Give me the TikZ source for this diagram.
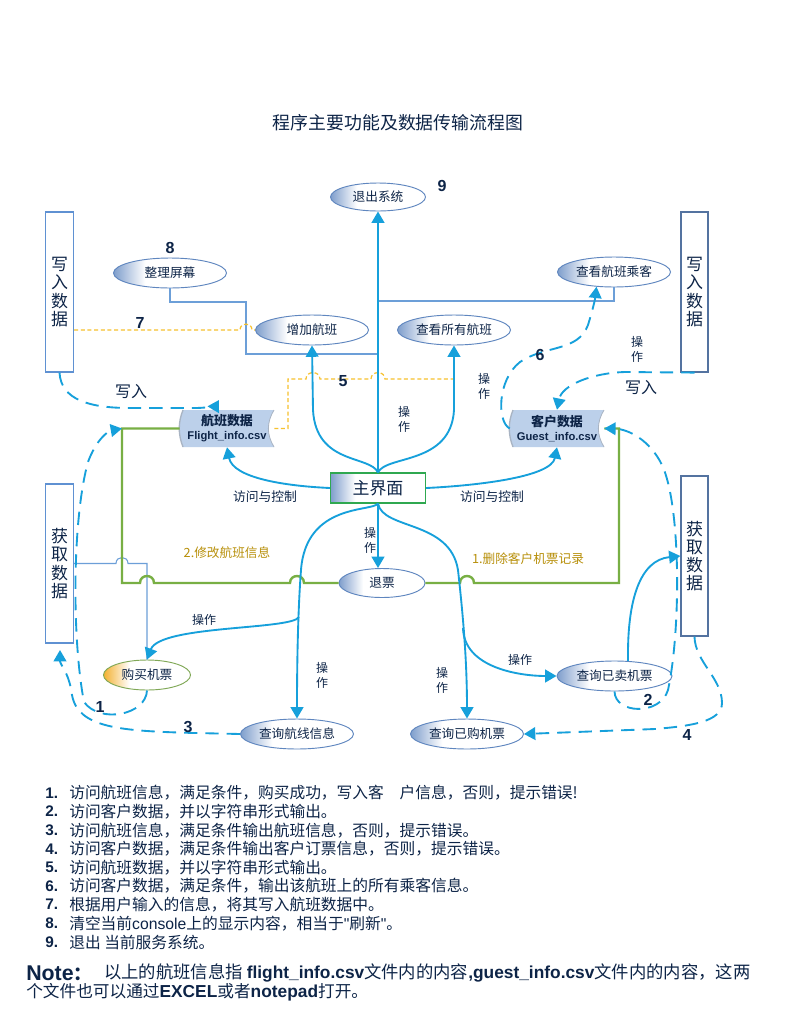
\documentclass[tikz,border=0pt]{standalone}
\usepackage{fontspec}
\setmainfont{Noto Sans CJK SC}
\newfontfamily\lat{Liberation Sans}
\usetikzlibrary{shapes.geometric,arrows.meta}
\definecolor{navy}{HTML}{0D2447}
\definecolor{flowC}{HTML}{16A0DB}
\definecolor{thinC}{HTML}{6C9FD8}
\definecolor{gC}{HTML}{78AF44}
\definecolor{yelC}{HTML}{F7C12E}
\definecolor{goldC}{HTML}{B8900B}
\definecolor{ellB}{HTML}{5F86BF}
\definecolor{ellL}{HTML}{7F9ECC}
\definecolor{boxBL}{HTML}{5F91D2}
\definecolor{boxBR}{HTML}{5473A0}
\definecolor{datF}{HTML}{BCD0EA}
\definecolor{datE}{HTML}{A9B4C3}
\definecolor{orL}{HTML}{F3B030}
\definecolor{orB}{HTML}{80A857}
\definecolor{mainB}{HTML}{2FA850}
\pgfdeclarehorizontalshading{ellgrad}{100bp}{color(0bp)=(ellL); color(25bp)=(ellL); color(39bp)=(white); color(100bp)=(white)}
\pgfdeclarehorizontalshading{orgrad}{100bp}{color(0bp)=(orL); color(25bp)=(orL); color(40bp)=(white); color(100bp)=(white)}
\pgfdeclarehorizontalshading{maingrad}{100bp}{color(0bp)=(ellL); color(25bp)=(ellL); color(38bp)=(white); color(100bp)=(white)}
\tikzset{
  every node/.style={text=navy},
  ell/.style={ellipse, draw=ellB, line width=0.7pt, shade, shading=ellgrad, inner sep=0pt,
    minimum width=84.75pt, minimum height=22.5pt, font=\fontsize{9.5}{11}\selectfont},
  vbox/.style={draw=boxBL, line width=0.9pt, fill=white, minimum width=21pt, minimum height=120pt,
    inner sep=0pt, align=center, font=\fontsize{12.7}{13.6}\selectfont},
  dat/.style={minimum width=70.5pt, minimum height=27.75pt, inner sep=0pt, align=center,
    font=\bfseries\fontsize{9.7}{10.5}\selectfont},
  flow/.style={draw=flowC, line width=1.4pt, -{Triangle[length=8.5pt,width=9.5pt]}},
  dflow/.style={flow, dash pattern=on 10pt off 6pt},
  tline/.style={draw=thinC, line width=0.8pt},
  gline/.style={draw=gC, line width=1.8pt},
  yline/.style={draw=yelC, line width=0.9pt, dash pattern=on 3pt off 2pt},
  lab/.style={font=\fontsize{9}{11.3}\selectfont, align=center, inner sep=0pt},
  ctl/.style={font=\fontsize{9.6}{11}\selectfont, inner sep=0pt},
  gold/.style={text=goldC, font=\fontsize{9.5}{11}\selectfont, inner sep=0pt},
  num/.style={font={\lat\bfseries\fontsize{12}{14}\selectfont}, inner sep=0pt},
  wlab/.style={font=\fontsize{12}{14}\selectfont, inner sep=0pt},
  item/.style={anchor=west, inner sep=0pt, font=\fontsize{11.8}{14}\selectfont},
  inum/.style={anchor=west, inner sep=0pt, font={\lat\bfseries\fontsize{11.5}{14}\selectfont}},
}
\begin{document}
\begin{tikzpicture}[x=0.75pt,y=-0.75pt]
\useasboundingbox (0,0) rectangle (789,1029);
\fill[white] (0,0) rectangle (789,1029);

% title
\node[font=\fontsize{13.4}{15}\selectfont, inner sep=0pt] (title) at (398,123) {程序主要功能及数据传输流程图};

% data shapes (background)
\fill[datF, shift={(227,428.5)}] (-44,-18.5) -- (47,-18.5) .. controls (39.5,-6) and (39.5,6) .. (47,18.5) -- (-44,18.5) .. controls (-49,6) and (-49,-6) .. (-44,-18.5) -- cycle;
\draw[datE, line width=1pt, shift={(227,428.5)}] (-44,18.5) .. controls (-49,6) and (-49,-6) .. (-44,-18.5);
\draw[datE, line width=0.6pt, shift={(227,428.5)}] (47,-18.5) .. controls (39.5,-6) and (39.5,6) .. (47,18.5);
\fill[datF, shift={(557,428.5)}] (-44,-18.5) -- (47,-18.5) .. controls (39.5,-6) and (39.5,6) .. (47,18.5) -- (-44,18.5) .. controls (-49,6) and (-49,-6) .. (-44,-18.5) -- cycle;
\draw[datE, line width=1pt, shift={(557,428.5)}] (-44,18.5) .. controls (-49,6) and (-49,-6) .. (-44,-18.5);
\draw[datE, line width=0.6pt, shift={(557,428.5)}] (47,-18.5) .. controls (39.5,-6) and (39.5,6) .. (47,18.5);
\node[dat] (fdata) at (227,428.5) {航班数据\\{\lat\bfseries\fontsize{8.4}{10.5}\selectfont Flight\_info.csv}};
\node[dat] (gdata) at (557,428.5) {客户数据\\{\lat\bfseries\fontsize{8.4}{10.5}\selectfont Guest\_info.csv}};

% ellipses
\node[ell, minimum width=71.25pt, minimum height=21pt] (exitn) at (378,197) {退出系统};
\node[ell] (clear) at (170,273) {整理屏幕};
\node[ell] (pass) at (614,272) {查看航班乘客};
\node[ell] (addf) at (312,330) {增加航班};
\node[ell] (allf) at (454,330) {查看所有航班};
\node[ell, minimum width=64.5pt, minimum height=21.75pt] (refund) at (382,583) {退票};
\node[ell, draw=orB, shading=orgrad, minimum width=65.25pt] (buy) at (147,675) {购买机票};
\node[ell] (route) at (297,734) {查询航线信息};
\node[ell, minimum width=86.25pt] (sold) at (614.5,676) {查询已卖机票};
\node[ell] (bought) at (467,734) {查询已购机票};

% main
\node[draw=mainB, line width=0.8pt, shade, shading=maingrad, minimum width=71.25pt, minimum height=22.5pt,
  inner sep=0pt, font=\fontsize{12.7}{14}\selectfont] (main) at (378,488) {主界面};

% side boxes
\node[vbox] (wl) at (59.5,292) {写\\入\\数\\据};
\node[vbox, draw=boxBR, minimum width=20.25pt] (wr) at (694.5,292) {写\\入\\数\\据};
\node[vbox, minimum height=119.25pt] (gl) at (59.5,563.5) {获\\取\\数\\据};
\node[vbox, draw=boxBR, minimum width=20.25pt] (gr) at (694.5,556) {获\\取\\数\\据};

% helper coordinates
\coordinate (t1) at (378,354);
\coordinate (t2) at (378,301);
\coordinate (b1) at (299,617);
\coordinate (b2) at (463,628);
\coordinate (gcorner) at (122,428.5);
\coordinate (y5end) at (454,379);
\coordinate (wlend) at (219,400);
\coordinate (g3end) at (60,650);

% thin lines
\draw[tline] (clear.south) -- (170,302) -- (246,302) -- (246,354) -- (t1);
\draw[tline] (t2) -- (614,301) -- (pass.south);
\draw[tline] (gl.east) -- (116,563.5) .. controls (116,555.5) and (128,555.5) .. (128,563.5) -- (147,563.5) -- (buy.north);

% yellow dashed
\draw[yline] (wl.east |- addf.west) -- (240,330) .. controls (240,322) and (252,322) .. (252,330) -- (addf.west);
\draw[yline] (fdata.east) -- (288,428.5) -- (288,379) -- (306,379) .. controls (306,370.5) and (320,370.5) .. (320,379) -- (371,379) .. controls (371,370.5) and (385,370.5) .. (385,379) -- (y5end);

% green
\draw[gline] (fdata.west) -- (gcorner) -- (122,583) -- (140,583) .. controls (140,573.7) and (154,573.7) .. (154,583) -- (290,583) .. controls (290,573.7) and (304,573.7) .. (304,583) -- (refund.west);
\draw[gline] (gdata.east) -- (619,428.5) -- (619,583) -- (474,583) .. controls (474,573.7) and (460,573.7) .. (460,583) -- (refund.east);

% thick flows
\draw[flow] (main.north) -- (exitn.south);
\draw[flow] (main.north) .. controls (370,455) and (316,465) .. (313,410) -- (addf.south);
\draw[flow] (main.north) .. controls (386,455) and (451,465) .. (454,410) -- (allf.south);
\draw[flow] (main.west) .. controls (285,486) and (233,478) .. (fdata.south);
\draw[flow] (main.east) .. controls (470,486) and (551,478) .. (gdata.south);
\draw[flow] (main.south) -- (main.south |- refund.north);
\draw[flow] (main.south) .. controls (372,512) and (306,503) .. (301,570) .. controls (298,610) and (297,660) .. (route.north);
\draw[flow] (main.south) .. controls (383,530) and (450,520) .. (458,570) .. controls (463,615) and (467,660) .. (bought.north);
\draw[flow] (b1) .. controls (292,630) and (160,625) .. (buy.north);
\draw[flow] (b2) .. controls (464,668) and (520,676) .. (sold.west);
\draw[flow] (sold.48) .. controls (627,600) and (640,560) .. (gr.west);

% dashed flows
\draw[dflow] (wl.south) .. controls (61,400) and (90,408) .. (130,408) -- (195,408) .. controls (209,408) and (216,405) .. (wlend);
\draw[dflow] (wr.south) -- (625,372) .. controls (592,373) and (562,385) .. (gdata.north);
\draw[dflow] (gdata.west) .. controls (497,422) and (497,380) .. (520,362) .. controls (545,345) and (578,352) .. (588,325) .. controls (592,312) and (595,300) .. (pass.220);
\draw[dflow] (sold.south) .. controls (615,714) and (660,716) .. (668,690) .. controls (681,630) and (681,505) .. (662,465) .. controls (650,440) and (628,429) .. (gdata.east);
\draw[dflow] (gr.south) .. controls (695,662) and (722,678) .. (722,703) .. controls (722,722) and (690,726) .. (655,729) -- (bought.east);
\draw[dflow] (buy.south) .. controls (146,715) and (100,724) .. (84,702) .. controls (72,640) and (72,520) .. (88,462) .. controls (96,440) and (108,431) .. (gcorner);
\draw[dflow] (route.west) -- (195,733) .. controls (120,731) and (78,728) .. (72,695) .. controls (69,672) and (60,665) .. (g3end);

% operation labels
\node[lab] (o1) at (404,419.5) {操\\作};
\node[lab] (o2) at (484,386.5) {操\\作};
\node[lab] (o3) at (637,349.5) {操\\作};
\node[lab] (o4) at (370,540.5) {操\\作};
\node[lab] (o5) at (322,675.5) {操\\作};
\node[lab] (o6) at (442,680) {操\\作};
\node[lab] (o7) at (204,620) {操作};
\node[lab] (o8) at (520,660) {操作};

\node[ctl] (c1) at (265,497) {访问与控制};
\node[ctl] (c2) at (492,497) {访问与控制};
\node[gold] (m2) at (227,553) {2.修改航班信息};
\node[gold] (m1) at (528,559) {1.删除客户机票记录};
\node[wlab] (w1) at (131,392) {写入};
\node[wlab] (w2) at (641,388) {写入};

% numbers
\node[num] (n1) at (100,707) {1};
\node[num] (n2) at (648,700) {2};
\node[num] (n3) at (188,727) {3};
\node[num] (n4) at (687,735) {4};
\node[num] (n5) at (343,381) {5};
\node[num] (n6) at (540,355) {6};
\node[num] (n7) at (140,323) {7};
\node[num] (n8) at (170,248) {8};
\node[num] (n9) at (442,186) {9};

% list
\node[inum] (i1) at (45,793) {1.};
\node[item] (t1x) at (69,793) {访问航班信息，满足条件，购买成功，写入客　户信息，否则，提示错误!};
\node[inum] (i2) at (45,811.6) {2.};
\node[item] (t2x) at (69,811.6) {访问客户数据，并以字符串形式输出。};
\node[inum] (i3) at (45,830.2) {3.};
\node[item] (t3x) at (69,830.2) {访问航班信息，满足条件输出航班信息，否则，提示错误。};
\node[inum] (i4) at (45,848.8) {4.};
\node[item] (t4x) at (69,848.8) {访问客户数据，满足条件输出客户订票信息，否则，提示错误。};
\node[inum] (i5) at (45,867.4) {5.};
\node[item] (t5x) at (69,867.4) {访问航班数据，并以字符串形式输出。};
\node[inum] (i6) at (45,886) {6.};
\node[item] (t6x) at (69,886) {访问客户数据，满足条件，输出该航班上的所有乘客信息。};
\node[inum] (i7) at (45,904.6) {7.};
\node[item] (t7x) at (69,904.6) {根据用户输入的信息，将其写入航班数据中。};
\node[inum] (i8) at (45,923.2) {8.};
\node[item] (t8x) at (69,923.2) {清空当前{\lat console}上的显示内容，相当于{\lat "}刷新{\lat "}。};
\node[inum] (i9) at (45,942) {9.};
\node[item] (t9x) at (69,942) {退出 当前服务系统。};

% note
\node[anchor=west, inner sep=0pt] (note) at (26,973) {{\lat\bfseries\fontsize{16}{18}\selectfont Note}{\bfseries\fontsize{14}{16}\selectfont ：}};
\node[item, font=\fontsize{13}{15}\selectfont] (nt1) at (104,973) {以上的航班信息指 {\lat\bfseries\fontsize{13}{14}\selectfont flight\_info.csv}文件内的内容{\lat\bfseries\fontsize{13}{14}\selectfont ,guest\_info.csv}文件内的内容，这两};
\node[item, font=\fontsize{12.5}{15}\selectfont] (nt2) at (26,992) {个文件也可以通过{\lat\bfseries\fontsize{13}{14}\selectfont EXCEL}或者{\lat\bfseries\fontsize{13}{14}\selectfont notepad}打开。};
\end{tikzpicture}
\end{document}
